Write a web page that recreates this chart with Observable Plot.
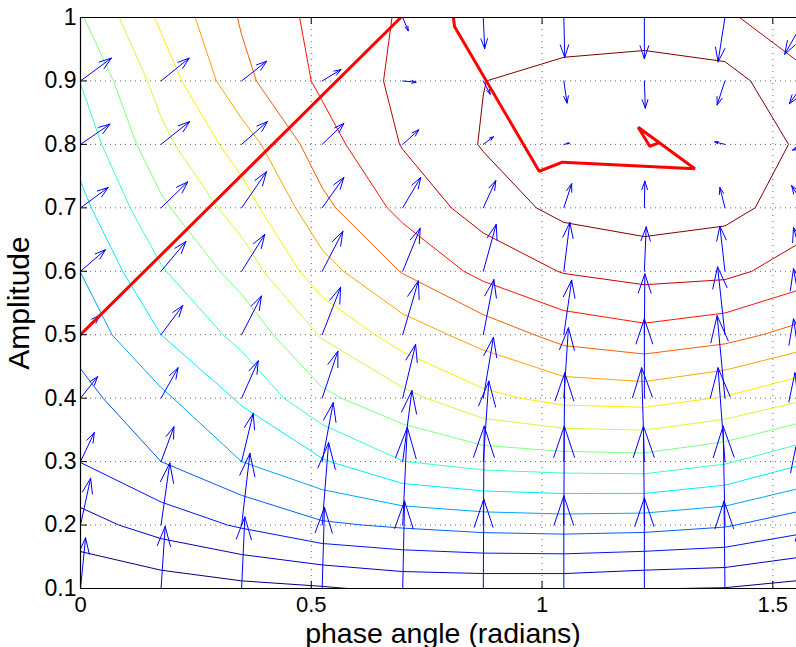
<!DOCTYPE html>
<html><head><meta charset="utf-8">
<script src="https://cdn.jsdelivr.net/npm/d3@7"></script>
<script src="https://cdn.jsdelivr.net/npm/@observablehq/plot@0.6"></script>
<style>
html,body{margin:0;padding:0;background:#fff;overflow:hidden;}
#wrap{width:796px;height:647px;overflow:hidden;position:relative;}
#chart{width:900px;}
</style></head><body><div id="wrap"><div id="chart"></div></div>
<script>
// grid of the computation (phase angle in radians, amplitude)
const phaseGrid = [0, 0.1745, 0.3491, 0.5236, 0.6981, 0.8727, 1.0472, 1.2217, 1.3963, 1.5708];
const ampGrid = [0.1, 0.2, 0.3, 0.4, 0.5, 0.6, 0.7, 0.8, 0.9, 1.0];

// contoured quantity at each grid node (in contour-level units)
const zA10 = [6.9, 9.19, 11.1, 12.35, 13.1, 13.3, 13.16, 13.35, 13.2, 12.1];
const zA09 = [6.03, 8.4, 10.73, 12.2, 13.25, 13.98, 14.5, 14.6, 14.35, 13.25];
const zA08 = [5.39, 7.7, 9.5, 11.56, 13.06, 14.07, 14.7, 15.0, 14.6, 13.84];
const zA07 = [4.72, 6.8, 8.5, 10.74, 12.3, 13.46, 14.28, 14.54, 14.3, 13.5];
const zA06 = [4.01, 5.9, 7.4, 9.62, 11.06, 12.3, 13.06, 13.35, 13.25, 12.5];
const zA05 = [3.36, 5.0, 6.3, 8.09, 9.48, 10.4, 11.35, 11.7, 11.35, 10.6];
const zA04 = [2.69, 3.8, 5.14, 6.78, 7.7, 8.75, 9.3, 9.4, 8.93, 8.1];
const zA03 = [2.02, 3.0, 4.0, 4.9, 5.98, 6.4, 6.56, 6.62, 6.12, 5.1];
const zA02 = [0.61, 1.43, 2.12, 2.86, 3.14, 3.37, 3.46, 3.39, 3.1, 2.35];
const zA01 = [-0.85, -0.58, -0.29, -0.1, 0.22, 0.27, 0.244, 0.03, -0.04, -0.37];

// contour levels and their (jet) colours
const levels = [0, 1, 2, 3, 4, 5, 6, 7, 8, 9, 10, 11, 12, 13, 14];
const levelColors = ["#000080", "#0000c8", "#0012ff", "#005bff", "#00a4ff", "#00edff", "#37ffc8",
  "#80ff80", "#c8ff37", "#ffed00", "#ffa400", "#ff5b00", "#ff1200", "#c80000", "#800000"];

// quiver components (phase, amplitude units) per amplitude row
const uA01 = [0.011, 0.009, 0.007, 0.005, 0.004, 0.001, 0, 0, -0.002, -0.009];
const vA01 = [0.080, 0.098, 0.113, 0.128, 0.138, 0.141, 0.146, 0.143, 0.138, 0.110];
const uA02 = [0.022, 0.019, 0.018, 0.014, 0.010, 0.002, 0.001, -0.002, -0.004, -0.021];
const vA02 = [0.074, 0.098, 0.113, 0.130, 0.154, 0.156, 0.156, 0.156, 0.156, 0.123];
const uA03 = [0.030, 0.028, 0.025, 0.024, 0.020, 0.012, 0.002, -0.006, -0.015, -0.023];
const vA03 = [0.046, 0.055, 0.076, 0.093, 0.112, 0.127, 0.140, 0.148, 0.148, 0.140];
const uA04 = [0.037, 0.037, 0.036, 0.034, 0.028, 0.022, 0.010, 0, -0.017, -0.026];
const vA04 = [0.034, 0.048, 0.059, 0.074, 0.085, 0.096, 0.111, 0.125, 0.130, 0.125];
const uA05 = [0.042, 0.047, 0.043, 0.040, 0.034, 0.023, 0.017, 0.001, -0.016, -0.026];
const vA05 = [0.031, 0.046, 0.061, 0.075, 0.085, 0.087, 0.086, 0.096, 0.107, 0.104];
const uA06 = [0.054, 0.054, 0.050, 0.045, 0.038, 0.028, 0.013, 0.004, -0.011, -0.026];
const vA06 = [0.034, 0.047, 0.058, 0.063, 0.068, 0.074, 0.077, 0.070, 0.071, 0.069];
const uA07 = [0.060, 0.058, 0.054, 0.047, 0.039, 0.027, 0.017, 0.001, -0.011, -0.030];
const vA07 = [0.032, 0.041, 0.057, 0.048, 0.048, 0.043, 0.038, 0.042, 0.032, 0.035];
const uA08 = [0.064, 0.062, 0.056, 0.047, 0.035, 0.022, 0.012, 0, -0.022, -0.028];
const vA08 = [0.032, 0.036, 0.036, 0.033, 0.023, 0.012, 0.002, 0, 0.004, -0.009];
const uA09 = [0.067, 0.061, 0.054, 0.041, 0.029, 0.015, 0.007, 0.002, -0.017, -0.035];
const vA09 = [0.036, 0.036, 0.031, 0.018, -0.002, -0.021, -0.035, -0.043, -0.038, -0.036];
const uA10 = [0.069, 0.065, 0.058, 0.045, 0.012, 0.003, 0.002, 0, -0.015, -0.045];
const vA10 = [0.038, 0.035, 0.025, 0.008, -0.021, -0.049, -0.063, -0.065, -0.070, -0.058];

// thick red curves
const redLineA = [[0, 0.5], [0.694, 1.0]];
const redLineB = [[0.808, 1.0], [0.8103, 0.9858], [0.9938, 0.7577], [1.0443, 0.7719], [1.3310, 0.7615],
  [1.2083, 0.8271], [1.2334, 0.7971], [1.2516, 0.8019]];

// axes
const xTicks = [0, 0.5, 1, 1.5];
const xTickLabels = ["0", "0.5", "1", "1.5"];
const yTicks = [0.1, 0.2, 0.3, 0.4, 0.5, 0.6, 0.7, 0.8, 0.9, 1.0];
const yTickLabels = ["0.1", "0.2", "0.3", "0.4", "0.5", "0.6", "0.7", "0.8", "0.9", "1"];
const xLabel = "phase angle (radians)";
const yLabel = "Amplitude";

// ---- build ----
const zRowsTopDown = [zA10, zA09, zA08, zA07, zA06, zA05, zA04, zA03, zA02, zA01];
const zFlat = zRowsTopDown.flat();
const uRows = [uA01, uA02, uA03, uA04, uA05, uA06, uA07, uA08, uA09, uA10];
const vRows = [vA01, vA02, vA03, vA04, vA05, vA06, vA07, vA08, vA09, vA10];
const arrows = [];
ampGrid.forEach((a, j) => phaseGrid.forEach((p, i) => {
  const u = uRows[j][i], v = vRows[j][i];
  if (u !== 0 || v !== 0) arrows.push({x: p, y: a, u, v});
}));
const hx = (phaseGrid[1] - phaseGrid[0]) / 2, hy = (ampGrid[1] - ampGrid[0]) / 2;
const xMax = phaseGrid[phaseGrid.length - 1];
const yMin = ampGrid[0], yMax = ampGrid[ampGrid.length - 1];
const font = "Liberation Sans, Arial, Helvetica, sans-serif";

const contourMarks = levels.map((lv, k) => Plot.contour(zFlat, {
  width: phaseGrid.length, height: ampGrid.length,
  x1: phaseGrid[0] - hx, x2: xMax + hx, y1: yMax + hy, y2: yMin - hy,
  value: Plot.identity, thresholds: [lv], fill: "none", stroke: levelColors[k], strokeWidth: 1, clip: true
}));

const frameH = 647 - 17 - 59;
const frameW = 806 - 80 - 1;
const tickLen = 7;
const chart = Plot.plot({
  width: 806, height: 647,
  marginLeft: 80, marginRight: 1, marginTop: 17, marginBottom: 59,
  style: {fontFamily: font, background: "#fff", maxWidth: "none", overflow: "visible"},
  x: {domain: [0, xMax], axis: null},
  y: {domain: [yMin, yMax], axis: null},
  marks: [
    Plot.ruleY(yTicks, {stroke: "#000", strokeOpacity: 0.6, strokeDasharray: "1,4"}),
    Plot.ruleX(xTicks, {stroke: "#000", strokeOpacity: 0.6, strokeDasharray: "1,5"}),
    ...contourMarks,
    Plot.arrow(arrows, {x1: "x", y1: "y", x2: d => d.x + d.u, y2: d => d.y + d.v,
      stroke: "#0000ff", strokeWidth: 1, headAngle: 37, headLength: 1000, clip: true}),
    Plot.line(redLineA, {x: d => d[0], y: d => d[1], stroke: "#ff0000", strokeWidth: 3, clip: true}),
    Plot.line(redLineB, {x: d => d[0], y: d => d[1], stroke: "#ff0000", strokeWidth: 3, strokeLinejoin: "miter", clip: true}),
    // ticks (inside): bottom, top, left, right
    Plot.ruleX(xTicks, {y1: yMax, y2: yMin, insetTop: frameH - tickLen, stroke: "#000"}),
    Plot.ruleX(xTicks, {y1: yMax, y2: yMin, insetBottom: frameH - tickLen, stroke: "#000"}),
    Plot.ruleY(yTicks, {x1: 0, x2: xMax, insetRight: frameW - tickLen, stroke: "#000"}),
    Plot.ruleY(yTicks, {x1: 0, x2: xMax, insetLeft: frameW - tickLen, stroke: "#000"}),
    // box
    Plot.ruleX([0, xMax], {stroke: "#000", strokeWidth: 1.2}),
    Plot.ruleY([yMin, yMax], {stroke: "#000", strokeWidth: 1.2}),
    // tick labels
    Plot.text(xTicks, {x: d => d, y: yMin, text: (d, i) => xTickLabels[i], dy: 8, lineAnchor: "top",
      fontSize: 22, fill: "#000", fontFamily: font}),
    Plot.text(yTicks, {x: 0, y: d => d, text: (d, i) => yTickLabels[i], dx: -4, textAnchor: "end",
      lineAnchor: "middle", fontSize: 23, fill: "#000", fontFamily: font}),
    // axis labels
    Plot.text([xLabel], {frameAnchor: "bottom", textAnchor: "middle", lineAnchor: "bottom", dy: 54,
      fontSize: 28.5, fill: "#000", fontFamily: font}),
    Plot.text([yLabel], {frameAnchor: "left", textAnchor: "middle", rotate: -90, lineAnchor: "bottom", dx: -52,
      fontSize: 30, fill: "#000", fontFamily: font})
  ]
});
document.getElementById("chart").appendChild(chart);
</script></body></html>
